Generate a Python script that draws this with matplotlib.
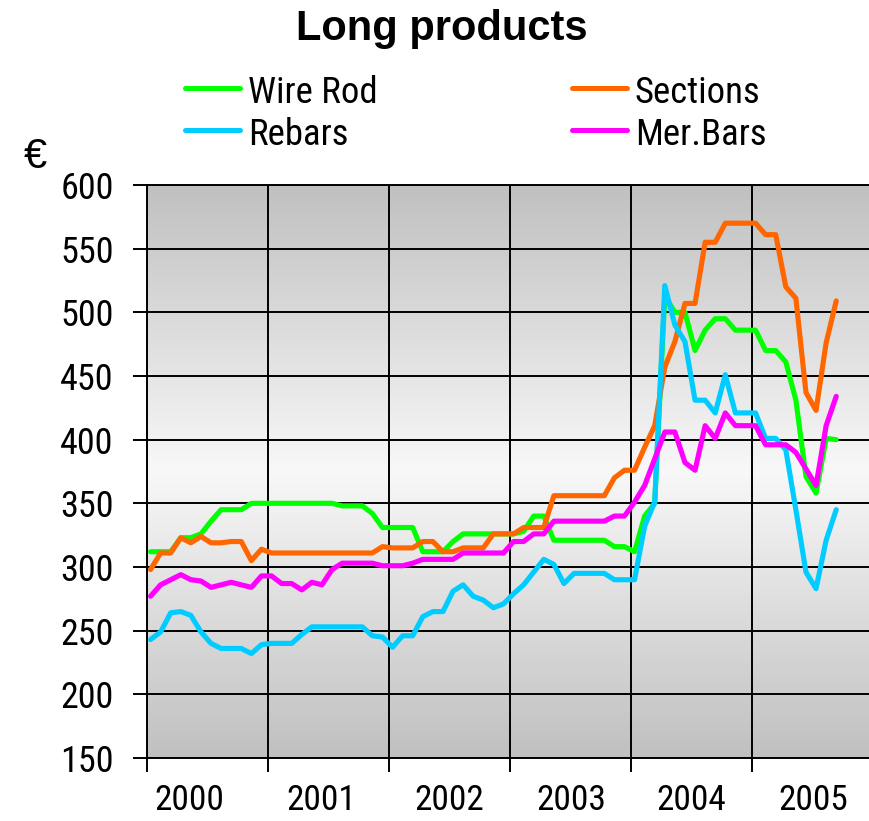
import numpy as np
import matplotlib
matplotlib.use("Agg")
import matplotlib.pyplot as plt
from matplotlib.lines import Line2D
from matplotlib import font_manager as fm

# Monthly prices (EUR/t), January 2000 onwards
wire_rod = [312, 312, 312, 323, 323, 326, 336, 345, 345, 345, 350, 350,
            350, 350, 350, 350, 350, 350, 350, 348, 348, 348, 342, 331,
            331, 331, 331, 312, 312, 312, 320, 326, 326, 326, 326, 326,
            326, 328, 340, 340, 321, 321, 321, 321, 321, 321, 316, 316,
            312, 340, 350, 513, 500, 500, 470, 486, 495, 495, 486, 486,
            486, 470, 470, 461, 431, 371, 358, 401, 400]
sections = [298, 311, 311, 323, 319, 324, 319, 319, 320, 320, 305, 314,
            311, 311, 311, 311, 311, 311, 311, 311, 311, 311, 311, 316,
            315, 315, 315, 320, 320, 312, 312, 315, 315, 315, 326, 326,
            326, 331, 331, 331, 356, 356, 356, 356, 356, 356, 370, 376,
            376, 394, 411, 457, 477, 507, 507, 555, 555, 570, 570, 570,
            570, 561, 561, 520, 511, 437, 423, 476, 509]
rebars = [243, 249, 264, 265, 262, 249, 240, 236, 236, 236, 232, 239,
          240, 240, 240, 247, 253, 253, 253, 253, 253, 253, 246, 245,
          237, 246, 246, 261, 265, 265, 281, 286, 277, 274, 268, 271,
          279, 286, 296, 306, 302, 287, 295, 295, 295, 295, 290, 290,
          290, 332, 351, 521, 490, 477, 431, 431, 421, 451, 421, 421,
          421, 401, 401, 392, 345, 296, 283, 321, 345]
mer_bars = [277, 286, 290, 294, 290, 289, 284, 286, 288, 286, 284, 293,
            293, 287, 287, 282, 288, 286, 298, 303, 303, 303, 303, 301,
            301, 301, 303, 306, 306, 306, 306, 311, 311, 311, 311, 311,
            320, 320, 326, 326, 336, 336, 336, 336, 336, 336, 340, 340,
            351, 364, 385, 406, 406, 382, 376, 411, 401, 421, 411, 411,
            411, 396, 396, 396, 390, 377, 364, 411, 434]

years = [2000, 2001, 2002, 2003, 2004, 2005]
year_labels = ["2000", "2001", "2002", "2003", "2004", "2005"]
series_names = ["Wire Rod", "Sections", "Rebars", "Mer.Bars"]
series_colors = ["#00ff00", "#ff6600", "#00ccff", "#ff00ff"]

W, H = 870, 821


def find_narrow_font():
    """Return the path of an installed narrow / condensed sans font, if any."""
    prefs = ["Liberation Sans Narrow", "Arial Narrow", "Roboto Condensed",
             "Open Sans Condensed", "DejaVu Sans Condensed", "Noto Sans Condensed"]
    regular = [f for f in fm.fontManager.ttflist
               if f.style == "normal" and f.weight in (400, "normal", "regular")]
    for p in prefs:
        for f in regular:
            if f.name == p:
                return f.fname
    for f in regular:
        fname = f.fname.lower()
        if ("condensed" in fname or "narrow" in fname or f.stretch in ("condensed", "semi-condensed")) \
                and "bold" not in fname and "italic" not in fname and "oblique" not in fname:
            return f.fname
    return None


narrow_path = find_narrow_font()
if narrow_path:
    def nfont(size):
        return fm.FontProperties(fname=narrow_path, size=size)
    tick_size, year_size, leg_size = 26, 25.5, 26.5
else:
    def nfont(size):
        return fm.FontProperties(family=["Liberation Sans", "DejaVu Sans"], size=size)
    tick_size, year_size, leg_size = 22, 21.5, 23

fig = plt.figure(figsize=(W / 100, H / 100), dpi=100)
ax = fig.add_axes([147 / W, 63 / H, 723 / W, 573 / H])

x0, x1 = 2000, 2005.975
y0, y1 = 150, 600
months = np.arange(len(wire_rod))
x = years[0] + (months + 0.35) / 12.0

# grey gradient, lightest across the middle of the value range
vals = np.linspace(y0, y1, 600)
mid = (y0 + y1) / 2
g = (248 - 56 * np.abs(vals - mid) / (mid - y0)) / 255.0
img = np.dstack([g, g, g]).reshape(len(vals), 1, 3)
ax.imshow(img, extent=[x0, x1, y0, y1], origin="lower", aspect="auto",
          interpolation="bilinear", zorder=0)

for vals_s, color in zip([wire_rod, sections, rebars, mer_bars], series_colors):
    ax.plot(x, vals_s, color=color, lw=3.7, solid_joinstyle="round",
            solid_capstyle="round", zorder=3)

ax.set_xlim(x0, x1)
ax.set_ylim(y0, y1)

ax.set_yticks(np.arange(150, 601, 50))
ax.tick_params(axis="y", which="major", length=10, width=1.4, direction="out",
               pad=14, colors="black")
for lab in ax.get_yticklabels():
    lab.set_fontproperties(nfont(tick_size))

ax.set_xticks(years)
ax.set_xticklabels([])
ax.tick_params(axis="x", which="major", length=10, width=1.4, direction="out")
label_pos = [2000.35, 2001.44, 2002.50, 2003.51, 2004.50, 2005.51]
ax.set_xticks(label_pos, minor=True)
ax.set_xticklabels(year_labels, minor=True)
ax.tick_params(axis="x", which="minor", length=0, pad=19)
for lab in ax.get_xticklabels(minor=True):
    lab.set_fontproperties(nfont(year_size))

ax.grid(True, which="major", color="black", lw=1.4, zorder=1)
ax.set_axisbelow(True)
ax.spines["right"].set_visible(False)
for side in ["left", "bottom", "top"]:
    ax.spines[side].set_linewidth(1.4)
    ax.spines[side].set_color("black")

# title and unit
fig.text(442 / W, 1 - 40 / H, "Long products", ha="center", va="baseline",
         fontsize=30, fontweight="bold", family=["Liberation Sans", "DejaVu Sans"])
fig.text(35 / W, 1 - 168 / H, "€", ha="center", va="baseline", fontsize=30,
         family=["Liberation Sans", "DejaVu Sans"])

# legend in two columns
legend_slots = [(185, 88), (572, 88), (185, 130), (572, 130)]
for name, color, (lx, ly) in zip(series_names, series_colors, legend_slots):
    fig.add_artist(Line2D([lx / W, (lx + 55) / W], [1 - ly / H, 1 - ly / H],
                          color=color, lw=3.6, solid_capstyle="round",
                          transform=fig.transFigure))
    fig.text((lx + 63) / W, 1 - (ly + 15) / H, name, ha="left", va="baseline",
             fontproperties=nfont(leg_size))

fig.savefig("out.png", dpi=100)
